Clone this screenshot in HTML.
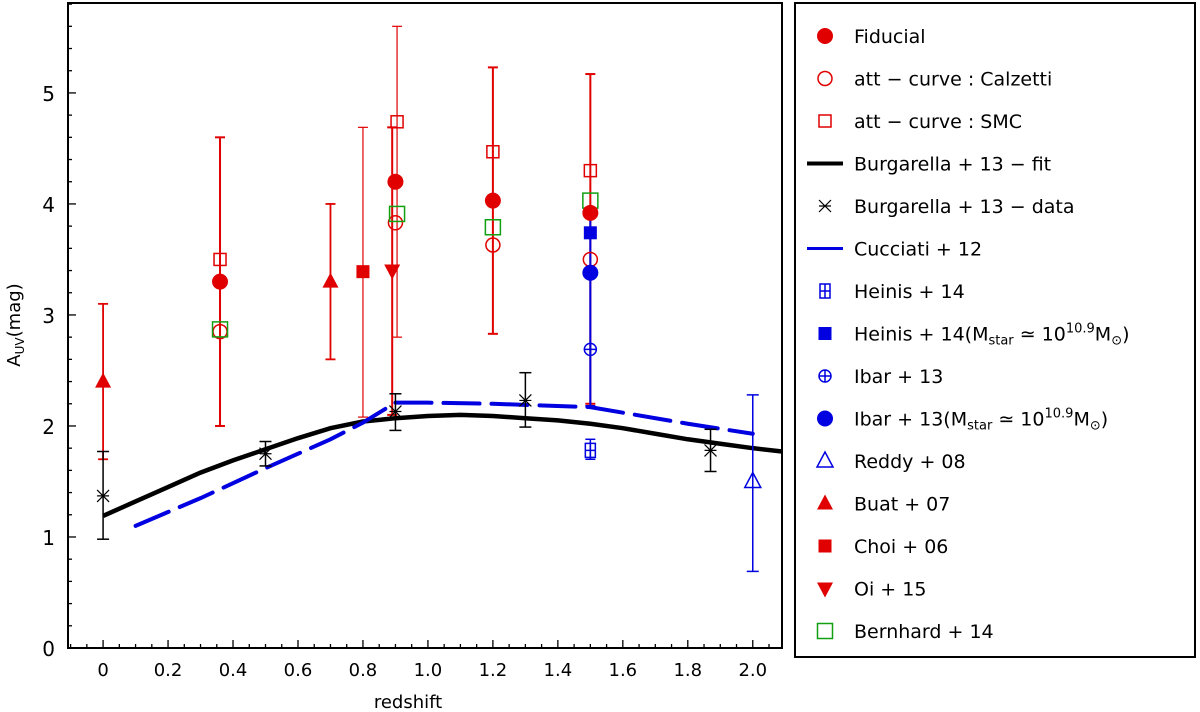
<!DOCTYPE html>
<html><head><meta charset="utf-8"><style>
body{margin:0;background:#fff;}
svg{display:block;font-family:"DejaVu Sans","Liberation Sans",sans-serif;}
</style></head><body>
<svg id="chart" width="1200" height="712" viewBox="0 0 1200 712" xmlns="http://www.w3.org/2000/svg">
<g id="plot"></g>
<g id="legend"></g>
</svg>
<script>
const xTicks=[0,0.2,0.4,0.6,0.8,1.0,1.2,1.4,1.6,1.8,2.0];
const xTickLabels=["0","0.2","0.4","0.6","0.8","1.0","1.2","1.4","1.6","1.8","2.0"];
const yTicks=[0,1,2,3,4,5];
const fitZ=[0,0.1,0.2,0.3,0.4,0.5,0.6,0.7,0.8,0.9,1.0,1.1,1.2,1.3,1.4,1.5,1.6,1.7,1.8,1.9,2.0,2.09];
const fitA=[1.19,1.32,1.45,1.58,1.69,1.79,1.89,1.98,2.04,2.07,2.09,2.1,2.09,2.07,2.05,2.02,1.98,1.93,1.88,1.84,1.8,1.77];
const cucZ=[0.1,0.3,0.5,0.7,0.8,0.9,1.0,1.2,1.5,1.8,2.0];
const cucA=[1.1,1.35,1.62,1.88,2.03,2.21,2.21,2.2,2.17,2.02,1.93];
const fidZ=[0.36,0.9,1.2,1.5];
const fidA=[3.3,4.2,4.03,3.92];
const calZ=[0.36,0.9,1.2,1.5];
const calA=[2.85,3.83,3.63,3.5];
const smcZ=[0.36,0.905,1.2,1.5];
const smcA=[3.5,4.74,4.47,4.3];
const berZ=[0.36,0.905,1.2,1.5];
const berA=[2.87,3.91,3.79,4.03];
const burZ=[0,0.5,0.9,1.3,1.87];
const burA=[1.37,1.75,2.13,2.23,1.78];
const burLo=[0.98,1.64,1.96,1.99,1.59];
const burHi=[1.77,1.86,2.29,2.48,1.97];
const buatZ=[0,0.7];
const buatA=[2.4,3.3];
const buatLo=[1.7,2.6];
const buatHi=[3.1,4.0];
const choiZ=[0.8];const choiA=[3.39];const choiLo=[2.08];const choiHi=[4.69];
const oiZ=[0.89];const oiA=[3.4];const oiLo=[2.1];const oiHi=[4.69];
const fidBarZ=[0.36,0.905,1.2,1.5];
const fidBarLo=[2.0,2.8,2.83,2.2];
const fidBarHi=[4.6,5.6,5.23,5.17];
const heinisZ=[1.5];const heinisA=[1.78];const heinisLo=[1.7];const heinisHi=[1.88];
const heinisMZ=[1.5];const heinisMA=[3.74];
const ibarZ=[1.5];const ibarA=[2.69];
const ibarMZ=[1.5];const ibarMA=[3.38];const ibarMLo=[2.18];const ibarMHi=[3.9];
const reddyZ=[2.0];const reddyA=[1.5];const reddyLo=[0.69];const reddyHi=[2.28];

const NS="http://www.w3.org/2000/svg";
const X0=68,X1=782,Y0=3,Y1=648;
const xmin=-0.108,xmax=2.09,ymin=0,ymax=5.81;
const xs=v=>X0+(v-xmin)/(xmax-xmin)*(X1-X0);
const ys=v=>Y1-(v-ymin)/(ymax-ymin)*(Y1-Y0);
const R="#e00000",B="#0000e0",G="#10a010",K="#000";
function el(tag,attrs,parent){const e=document.createElementNS(NS,tag);for(const k in attrs)e.setAttribute(k,attrs[k]);parent.appendChild(e);return e;}
const plot=document.getElementById('plot');
const frame=el('rect',{x:X0,y:Y0,width:X1-X0,height:Y1-Y0,fill:'none',stroke:K,'stroke-width':2},plot);


for(let k=-2;k<=41;k++){const v=k*0.05;const x=xs(v);const major=k%4===0;
 el('line',{x1:x,x2:x,y1:Y1,y2:Y1-(major?8:4),stroke:K,'stroke-width':1.3},plot);}
xTicks.forEach((v,i)=>{const t=el('text',{x:xs(v),y:Y1+28,'text-anchor':'middle','font-size':18},plot);t.textContent=xTickLabels[i];
 
 });
for(let k=0;k<=29;k++){const v=k*0.2;const y=ys(v);const major=k%5===0;
 el('line',{x1:X0,x2:X0+(major?8:4),y1:y,y2:y,stroke:K,'stroke-width':1.3},plot);}
yTicks.forEach(v=>{const t=el('text',{x:X0-13,y:ys(v)+8,'text-anchor':'end','font-size':20},plot);t.textContent=String(v);
 
 });
const xt=el('text',{x:408,y:708,'text-anchor':'middle','font-size':18},plot);xt.textContent='redshift';


const yt=el('text',{x:0,y:0,'text-anchor':'middle','font-size':18,transform:'translate(20,325) rotate(-90)'},plot);
yt.innerHTML='A<tspan font-size="12" dy="4">UV</tspan><tspan dy="-4">(mag)</tspan>';



function ebar(z,lo,hi,c,w,cap){const g=el('g',{stroke:c,'stroke-width':w},plot);
 el('line',{x1:xs(z),x2:xs(z),y1:ys(lo),y2:ys(hi)},g);
 el('line',{x1:xs(z)-cap,x2:xs(z)+cap,y1:ys(lo),y2:ys(lo)},g);
 el('line',{x1:xs(z)-cap,x2:xs(z)+cap,y1:ys(hi),y2:ys(hi)},g);return g;}
function marker(type,x,y,c,parent){parent=parent||plot;let m;
 switch(type){
 case 'fcirc':m=el('circle',{cx:x,cy:y,r:8,fill:c},parent);break;
 case 'ocirc':m=el('circle',{cx:x,cy:y,r:7,fill:'none',stroke:c,'stroke-width':1.5},parent);break;
 case 'osq':m=el('rect',{x:x-6,y:y-6,width:12,height:12,fill:'none',stroke:c,'stroke-width':1.5},parent);break;
 case 'gsq':m=el('rect',{x:x-7.5,y:y-7.5,width:15,height:15,fill:'none',stroke:c,'stroke-width':1.5},parent);break;
 case 'fsq':m=el('rect',{x:x-6.5,y:y-6.5,width:13,height:13,fill:c},parent);break;
 case 'ftri':m=el('polygon',{points:`${x},${y-9} ${x-8},${y+6} ${x+8},${y+6}`,fill:c},parent);break;
 case 'dtri':m=el('polygon',{points:`${x},${y+9} ${x-8},${y-6} ${x+8},${y-6}`,fill:c},parent);break;
 case 'otri':m=el('polygon',{points:`${x},${y-9} ${x-8},${y+6} ${x+8},${y+6}`,fill:'none',stroke:c,'stroke-width':1.5},parent);break;
 case 'xstar':m=el('path',{d:`M${x-6},${y-6}L${x+6},${y+6}M${x-6},${y+6}L${x+6},${y-6}M${x-6},${y}L${x+6},${y}`,stroke:c,'stroke-width':1.2},parent);break;
 case 'sqplus':m=el('path',{d:`M${x-5},${y-7}h10v14h-10zM${x},${y-7}v14M${x-5},${y}h10`,fill:'none',stroke:c,'stroke-width':1.5},parent);break;
 case 'cplus':m=el('path',{d:`M${x-6},${y}a6,6 0 1,0 12,0a6,6 0 1,0 -12,0M${x-6},${y}h12M${x},${y-6}v12`,fill:'none',stroke:c,'stroke-width':1.5},parent);break;
 case 'line':m=el('line',{x1:x-18,x2:x+18,y1:y,y2:y,stroke:c,'stroke-width':4},parent);break;
 case 'dash':m=el('line',{x1:x-18,x2:x+18,y1:y,y2:y,stroke:c,'stroke-width':3},parent);break;
 }return m;}

const fitPts=fitZ.map((z,i)=>xs(z)+','+ys(fitA[i])).join(' ');
const fitL=el('polyline',{points:fitPts,fill:'none',stroke:K,'stroke-width':4.5},plot);


const cucPts=cucZ.map((z,i)=>xs(z)+','+ys(cucA[i])).join(' ');
const cucL=el('polyline',{points:cucPts,fill:'none',stroke:B,'stroke-width':4,'stroke-dasharray':'36,12','stroke-linecap':'round'},plot);



fidBarZ.forEach((z,i)=>{const g=ebar(z,fidBarLo[i],fidBarHi[i],R,i===1?1.2:2,5);
 
 });
buatZ.forEach((z,i)=>{const g=ebar(z,buatLo[i],buatHi[i],R,1.8,5);});
choiZ.forEach((z,i)=>{const g=ebar(z,choiLo[i],choiHi[i],R,1.2,5);});
oiZ.forEach((z,i)=>{const g=ebar(z,oiLo[i],oiHi[i],R,2,5);});
burZ.forEach((z,i)=>{const g=ebar(z,burLo[i],burHi[i],K,1.5,6);});
ibarMZ.forEach((z,i)=>{const g=ebar(z,ibarMLo[i],ibarMHi[i],B,2,5);});
heinisZ.forEach((z,i)=>{const g=ebar(z,heinisLo[i],heinisHi[i],B,1.5,5);});
reddyZ.forEach((z,i)=>{const g=ebar(z,reddyLo[i],reddyHi[i],B,1.5,6);});

function series(Z,A,type,c,name){Z.forEach((z,i)=>{const m=marker(type,xs(z),ys(A[i]),c);
 
 });}
series(burZ,burA,'xstar',K,'burgarella-point');
series(heinisZ,heinisA,'sqplus',B,'heinis-point');
series(ibarZ,ibarA,'cplus',B,'ibar-point');
series(reddyZ,reddyA,'otri',B,'reddy-point');
series(buatZ,buatA,'ftri',R,'buat-point');
series(choiZ,choiA,'fsq',R,'choi-point');
series(oiZ,oiA,'dtri',R,'oi-point');
series(calZ,calA,'ocirc',R,'calzetti-point');
series(smcZ,smcA,'osq',R,'smc-point');
series(berZ,berA,'gsq',G,'bernhard-point');
series(fidZ,fidA,'fcirc',R,'fiducial-point');
series(heinisMZ,heinisMA,'fsq',B,'heinis-mass-point');
series(ibarMZ,ibarMA,'fcirc',B,'ibar-mass-point');

const lg=document.getElementById('legend');
const lb=el('rect',{x:795,y:3,width:400,height:654,fill:'#fff',stroke:K,'stroke-width':2},lg);


const sub='<tspan font-size="13" dy="4">star</tspan><tspan dy="-4"> ≃ 10</tspan><tspan font-size="13" dy="-8">10.9</tspan><tspan dy="8">M</tspan><tspan font-size="13" dy="4">⊙</tspan><tspan dy="-4">)</tspan>';
const legendItems=[
 ['fcirc',R,'Fiducial'],['ocirc',R,'att − curve : Calzetti'],['osq',R,'att − curve : SMC'],
 ['line',K,'Burgarella + 13 − fit'],['xstar',K,'Burgarella + 13 − data'],['dash',B,'Cucciati + 12'],
 ['sqplus',B,'Heinis + 14'],['fsq',B,'Heinis + 14(M'+sub],['cplus',B,'Ibar + 13'],
 ['fcirc',B,'Ibar + 13(M'+sub],['otri',B,'Reddy + 08'],['ftri',R,'Buat + 07'],
 ['fsq',R,'Choi + 06'],['dtri',R,'Oi + 15'],['gsq',G,'Bernhard + 14']];
legendItems.forEach((it,i)=>{const y=36+i*42.5;
 const g=el('g',{},lg);
 
 
 marker(it[0],825,y,it[1],g);
 const t=el('text',{x:854,y:y+7,'font-size':19},g);t.innerHTML=it[2];});
</script>
</body></html>
